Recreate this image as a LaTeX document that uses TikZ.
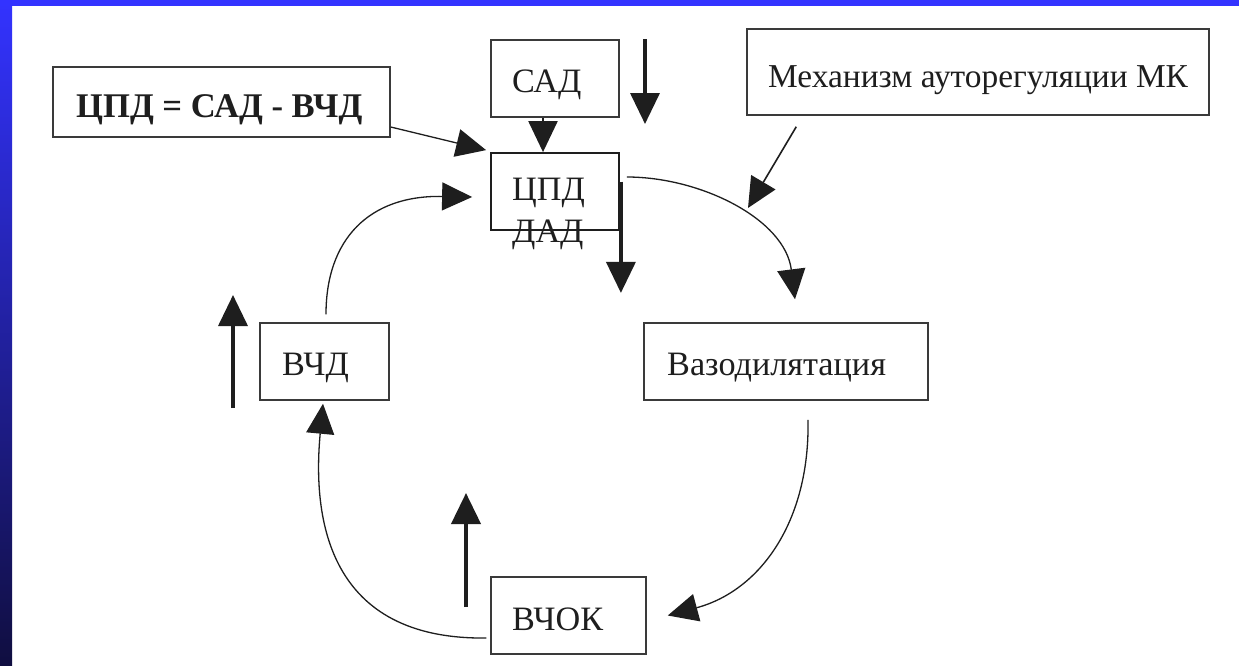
\documentclass[tikz,border=0pt]{standalone}
\usepackage{fontspec}
\setmainfont{Liberation Serif}
\usetikzlibrary{arrows.meta,calc}
\definecolor{blueA}{HTML}{3333FF}
\definecolor{blueB}{HTML}{100E40}
\definecolor{ink}{HTML}{1E1E1E}
\definecolor{boxline}{HTML}{3A3A3A}
\begin{document}
\begin{tikzpicture}[x=1pt,y=-1pt,
  box/.style={draw=boxline,line width=1.5pt,inner sep=0pt},
  txt/.style={inner sep=0pt,anchor=base west,text=ink,font=\fontsize{34.2}{38}\selectfont},
  btxt/.style={inner sep=0pt,anchor=base west,text=ink,font=\bfseries\fontsize{34.6}{38}\selectfont},
  thinarr/.style={line width=1.3pt,draw=ink,-{Triangle[width=28pt,length=30pt]}},
  boldarr/.style={line width=3.5pt,draw=ink,-{Triangle[width=29pt,length=31pt]}}]
\useasboundingbox (0,0) rectangle (1239,665);
\fill[white] (0,0) rectangle (1239,665);
\shade[top color=blueA,bottom color=blueB] (0,0) rectangle (12,665);
\fill[blueA] (0,0) rectangle (1239,6);

% boxes
\node[box,minimum width=337pt,minimum height=70pt] (form) at (221.5,102) {};
\node[box,minimum width=128pt,minimum height=77pt] (sad) at (555,78.5) {};
\node[box,minimum width=128pt,minimum height=77pt,line width=1.8pt,draw=ink] (cpd) at (555,191.5) {};
\node[box,minimum width=462pt,minimum height=86pt] (mech) at (978,72) {};
\node[box,minimum width=284pt,minimum height=77pt] (vaz) at (786,361.5) {};
\node[box,minimum width=129pt,minimum height=77pt] (vchd) at (324.5,361.5) {};
\node[box,minimum width=155pt,minimum height=77pt] (vchok) at (568.5,615.5) {};

% texts
\node[btxt] (formt) at (76,117) {ЦПД = САД - ВЧД};
\node[txt] (sadt) at (512,92) {САД};
\node[txt] (cpdt) at (512,200) {ЦПД};
\node[txt] (dadt) at (512,242) {ДАД};
\node[txt,font=\fontsize{33.4}{38}\selectfont] (mecht) at (768,87) {Механизм ауторегуляции МК};
\node[txt] (vazt) at (667,375) {Вазодилятация};
\node[txt] (vchdt) at (282,375) {ВЧД};
\node[txt] (vchokt) at (512,630) {ВЧОК};

% free arrow ends
\coordinate (d1s) at (645,39);
\coordinate (d1e) at (645,124);
\coordinate (u1s) at (233,408);
\coordinate (u1e) at (233,295);
\coordinate (u2s) at (466,607);
\coordinate (u2e) at (466,493);
\coordinate (mk) at (748,208);

% connectors
\draw[thinarr] ($(form.east)+(0,25)$) -- ($(cpd.north west)+(-4,-2)$);
\draw[boldarr,line width=2.2pt] ($(sad.south)+(-12,0)$) -- ($(cpd.north)+(-12,0)$);
\draw[boldarr] (d1s) -- (d1e);
\draw[boldarr] ($(cpd.east)+(1,-10)$) -- ($(cpd.south east)+(1,62)$);
\draw[thinarr] ($(cpd.east)+(7,-14.5)$) .. controls +(74,0) and +(-10,-80) .. ($(vaz.north)+(9,-23)$);
\draw[thinarr,line width=1.6pt] ($(mech.south west)+(50,11)$) -- (mk);
\draw[thinarr] ($(vaz.south)+(22,19)$) .. controls +(2,101) and +(93,-25) .. ($(vchok.east)+(21,0)$);
\draw[thinarr] ($(vchok.west)+(-4,22.5)$) .. controls +(-157,2) and +(-11,117) .. ($(vchd.south)+(-1.5,3)$);
\draw[thinarr] ($(vchd.north)+(1.5,-8)$) .. controls +(0,-75) and +(-103,-2) .. ($(cpd.west)+(-18,5.5)$);
\draw[boldarr] (u1s) -- (u1e);
\draw[boldarr,line width=4pt] (u2s) -- (u2e);
\end{tikzpicture}
\end{document}
